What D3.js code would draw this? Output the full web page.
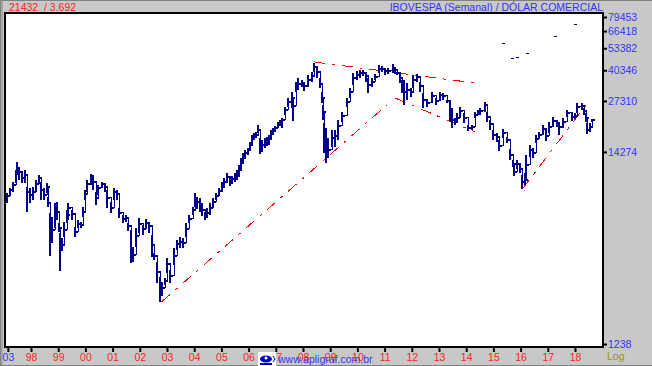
<!DOCTYPE html>
<html>
<head>
<meta charset="utf-8">
<script src="https://cdn.jsdelivr.net/npm/d3@7"></script>
<style>
    html, body { margin: 0; padding: 0; background: #c8c8c8; }
    svg { display: block; }
    text { font-family: "Liberation Sans", Arial, sans-serif; font-size: 10.5px; }
</style>
</head>
<body>
<div id="chart"></div>
<script>
// weekly bars (thinned out, one bar every few pixels)
const barDates = [
    1997.12, 1997.23, 1997.34, 1997.45, 1997.49, 1997.56, 1997.67, 1997.78, 1997.85, 1997.96,
    1998.07, 1998.18, 1998.29, 1998.37, 1998.48, 1998.59, 1998.62, 1998.70, 1998.77, 1998.88, 1998.96,
    1999.03, 1999.07, 1999.14, 1999.21, 1999.32, 1999.36, 1999.51, 1999.62, 1999.73, 1999.84, 1999.91, 1999.99,
    2000.06, 2000.21, 2000.28, 2000.39, 2000.46, 2000.61, 2000.72, 2000.79, 2000.94,
    2001.05, 2001.16, 2001.24, 2001.38, 2001.49, 2001.57, 2001.68, 2001.75, 2001.86, 2001.97,
    2002.12, 2002.23, 2002.34, 2002.45, 2002.52, 2002.63, 2002.74, 2002.82, 2002.93,
    2003.00, 2003.11, 2003.26, 2003.37, 2003.48, 2003.59, 2003.70, 2003.81, 2003.96,
    2004.03, 2004.10, 2004.21, 2004.29, 2004.40, 2004.47, 2004.58, 2004.69, 2004.80, 2004.91,
    2005.02, 2005.09, 2005.21, 2005.32, 2005.39, 2005.50, 2005.57, 2005.65, 2005.72, 2005.79, 2005.87, 2005.98,
    2006.05, 2006.12, 2006.20, 2006.27, 2006.34, 2006.42, 2006.49, 2006.60, 2006.68, 2006.75, 2006.82, 2006.90, 2006.97,
    2007.08, 2007.15, 2007.23, 2007.34, 2007.45, 2007.59, 2007.63, 2007.74, 2007.81, 2007.96,
    2008.04, 2008.18, 2008.33, 2008.40, 2008.51, 2008.62, 2008.70, 2008.73, 2008.77, 2008.84, 2008.92,
    2009.07, 2009.18, 2009.29, 2009.43, 2009.62, 2009.73, 2009.84, 2009.98,
    2010.09, 2010.20, 2010.32, 2010.39, 2010.54, 2010.65, 2010.79, 2010.90,
    2011.01, 2011.12, 2011.31, 2011.38, 2011.45, 2011.56, 2011.64, 2011.71, 2011.82, 2011.97,
    2012.04, 2012.19, 2012.30, 2012.41, 2012.56, 2012.74, 2012.89,
    2013.04, 2013.15, 2013.29, 2013.40, 2013.48, 2013.59, 2013.66, 2013.77, 2013.92,
    2014.06, 2014.21, 2014.32, 2014.43, 2014.51, 2014.69, 2014.76, 2014.87, 2014.98,
    2015.13, 2015.20, 2015.35, 2015.50, 2015.61, 2015.72, 2015.76, 2015.87, 2015.98,
    2016.05, 2016.16, 2016.20, 2016.34, 2016.45, 2016.56, 2016.67, 2016.82, 2016.93,
    2017.04, 2017.19, 2017.34, 2017.41, 2017.56, 2017.70, 2017.89,
    2018.00, 2018.07, 2018.25, 2018.33, 2018.40, 2018.44, 2018.55, 2018.62
];
const barHighs = [
    8473, 9030, 9745, 11360, 12570, 11800, 10930, 11360, 9145, 9030,
    9145, 10000, 10660, 9745, 9030, 9622, 8053, 6570, 6245, 7460, 7556,
    5785, 5093, 4780, 5858, 6825, 7460, 6825, 5498, 6010, 5858, 7091, 8800,
    10000, 10790, 10660, 8581, 9380, 9745, 9622, 8800, 7556,
    9030, 8800, 7000, 6405, 6405, 5785, 5292, 4263, 5428, 6165,
    5640, 6087, 5858, 4966, 3950, 3522, 2912, 2731, 2875,
    3708, 3180, 4210, 4660, 4841, 4780, 5785, 6405, 7091,
    8473, 8053, 7950, 7273, 6653, 7000, 7460, 7950, 8473, 9030,
    9745, 10260, 10930, 10260, 10520, 10930, 11360, 12100, 13230, 14090, 14650, 15020,
    16210, 17720, 18180, 18410, 20130, 17060, 16630, 17060, 17280, 17720, 18890, 19380, 19880,
    20910, 21450, 22000, 25310, 28380, 30630, 27670, 34790, 36600, 35680,
    34790, 38030, 39510, 44300, 42100, 36600, 30630, 25960, 20650, 19380, 17060,
    18890, 18890, 21450, 23750, 28380, 32230, 39010, 40010,
    40520, 40520, 39510, 36600, 36600, 38510, 43190, 42640,
    41570, 41570, 43740, 42100, 39510, 39010, 35680, 35680, 34350, 32230,
    38030, 38510, 34790, 30240, 27670, 30630, 28380,
    30630, 30240, 27670, 26970, 24990, 22000, 23450, 25310, 23450,
    20130, 20130, 23750, 24360, 24990, 26970, 23750, 21450, 18890,
    18180, 16630, 19130, 17280, 14830, 12890, 11800, 12890, 12100,
    10660, 10930, 13740, 15610, 15020, 17720, 18410, 20130, 18890,
    20910, 22290, 21450, 20910, 22000, 24360, 23450,
    23450, 26630, 26630, 24990, 23450, 20650, 20650, 21730
];
const barLows = [
    7460, 8260, 8581, 9622, 10660, 10000, 9622, 9622, 6653, 7460,
    7751, 8581, 9622, 7751, 7751, 8473, 7091, 3803, 4486, 5428, 6010,
    5158, 3140, 4104, 4841, 5785, 6010, 6010, 4841, 5428, 5428, 6245, 7751,
    8581, 9380, 8800, 7273, 8260, 9030, 8581, 7000, 6570,
    7751, 7751, 6165, 5785, 5858, 5225, 3478, 3522, 4263, 5093,
    4966, 5428, 5093, 3755, 3615, 2697, 2117, 2270, 2629,
    3060, 2697, 3390, 4104, 4210, 4210, 4841, 5785, 6405,
    7091, 6910, 6653, 6325, 6010, 6165, 6405, 7000, 7751, 8156,
    8581, 9030, 9622, 9262, 9500, 9745, 10000, 10390, 11360, 12410, 13230, 13740,
    14650, 15610, 16630, 17060, 18180, 13920, 14270, 15020, 15410, 15610, 16630, 17720, 18410,
    19380, 19880, 19380, 22860, 25310, 24990, 21180, 30630, 31420, 32640,
    31020, 32640, 34790, 39510, 36600, 32230, 26630, 21450, 14090, 12410, 13230,
    15220, 15220, 16630, 20910, 25310, 28380, 33480, 35680,
    36600, 37550, 34790, 30240, 32640, 35680, 39010, 39510,
    38030, 38510, 39010, 38510, 38030, 34350, 30240, 25960, 27670, 28740,
    32230, 34790, 30630, 24990, 25310, 26970, 25960,
    27670, 27670, 26630, 20910, 19380, 20130, 20650, 22000, 20650,
    18650, 18890, 22000, 22860, 22860, 23750, 20910, 18890, 16630,
    16210, 14460, 17060, 16010, 12890, 11800, 10520, 11500, 10930,
    8915, 9380, 10000, 13400, 13230, 16010, 16850, 17720, 16420,
    18180, 19630, 19630, 17720, 19380, 22290, 21180,
    21730, 23450, 24360, 22860, 20910, 17950, 18410, 20910
];
const barCloses = [
    8156, 8800, 9380, 10790, 11650, 11070, 10260, 10660, 8581, 8260,
    8581, 9500, 10260, 8800, 8260, 9145, 7460, 5428, 5292, 6653, 6653,
    5428, 4104, 4374, 5292, 6405, 7000, 6487, 5158, 5713, 5640, 6653, 8365,
    9500, 10260, 9745, 7950, 9030, 9500, 9145, 7950, 7000,
    8581, 8365, 6570, 6087, 6165, 5570, 4104, 3851, 4903, 5713,
    5360, 5785, 5570, 4374, 3803, 3101, 2466, 2530, 2767,
    3434, 2947, 3803, 4430, 4542, 4486, 5360, 6087, 6825,
    7950, 7556, 7366, 6825, 6325, 6570, 7000, 7556, 8156, 8690,
    9262, 9745, 10390, 9745, 10130, 10390, 10790, 11360, 12410, 13230, 14090, 14650,
    15610, 16850, 17500, 17720, 18890, 15410, 15610, 16210, 16630, 17060, 17950, 18650, 19380,
    20390, 20910, 21450, 24360, 26970, 28380, 25630, 32640, 33910, 34350,
    33060, 35680, 37550, 42100, 39510, 33910, 28380, 23750, 16630, 14650, 14650,
    17060, 17500, 19880, 22570, 26970, 30630, 36600, 38030,
    39010, 39010, 37550, 33480, 34790, 37070, 41040, 41040,
    40010, 40010, 41570, 40520, 39010, 36600, 33060, 30630, 31420, 30630,
    35680, 37070, 33060, 27670, 26630, 29110, 27320,
    29480, 29110, 27320, 24360, 21450, 21180, 22000, 24050, 22000,
    19380, 19630, 22860, 23750, 24050, 25960, 22290, 20390, 17720,
    17280, 15410, 18180, 16630, 13740, 12260, 11070, 12260, 11500,
    9745, 10000, 12100, 14650, 14090, 16850, 17720, 19130, 17500,
    19630, 21180, 20650, 19630, 20910, 23450, 22290,
    22570, 25310, 25630, 24050, 22000, 18890, 19630, 21432
];

// stray short marks above the price
const dashDates = [2015.30, 2015.66, 2015.84, 2016.21, 2017.24, 2017.97];
const dashValues = [57100, 47200, 47800, 50300, 62460, 72800];

// trend lines: [date, value, date, value]
const trendStarts = [[2002.80, 2117], [2008.40, 44870], [2011.38, 28380], [2016.07, 8915]];
const trendEnds = [[2011.09, 25960], [2014.28, 34350], [2014.32, 18400], [2018.41, 25970]];

const priceTicks = [79453, 66418, 53382, 40346, 27310, 14274, 1238];
const yearTicks = [1997.15, 1998, 1999, 2000, 2001, 2002, 2003, 2004, 2005, 2006, 2007, 2008, 2009, 2010, 2011, 2012, 2013, 2014, 2015, 2016, 2017, 2018];
const yearLabels = ["03", "98", "99", "00", "01", "02", "03", "04", "05", "06", "07", "08", "09", "10", "11", "12", "13", "14", "15", "16", "17", "18"];

const width = 652,
    height = 366,
    plot = { left: 6, right: 602, top: 14, bottom: 346 };

const svg = d3.select("#chart").append("svg")
    .attr("width", width)
    .attr("height", height);

const x = d3.scaleLinear().domain([1998, 2018]).range([31, 575]);
const y = d3.scaleLog().domain([1238, 79453]).range([344, 17]);

// window frame
svg.append("rect").attr("width", width).attr("height", height).attr("fill", "#c8c8c8");
svg.append("path")
    .attr("d", `M0.5,${height}V0.5H${width}M0,${height - 0.5}H${width}`)
    .attr("fill", "none")
    .attr("stroke", "#808080")
    .attr("stroke-width", 1);
svg.append("rect").attr("x", 1).attr("y", 1).attr("width", 2).attr("height", height - 2).attr("fill", "#a8a8a8");

// plot area
svg.append("rect")
    .attr("x", plot.left - 1)
    .attr("y", plot.top - 1)
    .attr("width", plot.right - plot.left + 2)
    .attr("height", plot.bottom - plot.top + 2)
    .attr("fill", "#fff")
    .attr("stroke", "#000")
    .attr("stroke-width", 2);

// trend lines
svg.append("g")
    .attr("class", "trends")
    .selectAll("line")
    .data(trendStarts)
    .enter()
    .append("line")
    .attr("x1", d => x(d[0]))
    .attr("y1", d => y(d[1]))
    .attr("x2", (d, i) => x(trendEnds[i][0]))
    .attr("y2", (d, i) => y(trendEnds[i][1]))
    .attr("stroke", "#ff0000")
    .attr("stroke-width", 1)
    .attr("stroke-dasharray", "11 7 3 7")
    .attr("shape-rendering", "crispEdges");

// bars: high-low stem with the close to the right
const bars = svg.append("g")
    .attr("class", "bars")
    .attr("stroke", "#00008b")
    .attr("shape-rendering", "crispEdges");

// the real chart has a bar per week, this thin step through the closes fills the space between ours
const closeLine = d3.line()
    .x(d => Math.round(x(d[0])))
    .y(d => y(d[1]))
    .curve(d3.curveStepAfter);

bars.append("path")
    .attr("fill", "none")
    .attr("stroke-width", 1)
    .attr("d", closeLine(barDates.map((d, i) => [d, barCloses[i]])));

bars.selectAll("path.bar")
    .data(barDates)
    .enter()
    .append("path")
    .attr("class", "bar")
    .attr("fill", "none")
    .attr("stroke-width", 2)
    .attr("d", (d, i) => {
        const px = Math.round(x(d));
        return `M${px},${y(barHighs[i])}V${y(barLows[i])}M${px},${y(barCloses[i])}H${px + 3}`;
    });

svg.append("g")
    .attr("class", "dashes")
    .selectAll("line")
    .data(dashDates)
    .enter()
    .append("line")
    .attr("x1", d => x(d))
    .attr("x2", d => x(d) + 3)
    .attr("y1", (d, i) => Math.round(y(dashValues[i])) + 0.5)
    .attr("y2", (d, i) => Math.round(y(dashValues[i])) + 0.5)
    .attr("stroke", "#00008b")
    .attr("shape-rendering", "crispEdges");

// right axis
const yAxis = d3.axisRight(y)
    .tickValues(priceTicks)
    .tickFormat(d3.format("d"))
    .tickSize(3)
    .tickPadding(1);

const yAxisG = svg.append("g")
    .attr("transform", `translate(${plot.right + 2},0)`)
    .call(yAxis);
yAxisG.select(".domain").remove();
yAxisG.selectAll("line").attr("stroke", "#000").attr("stroke-width", 2);
yAxisG.selectAll("text").attr("fill", "#3333ff").attr("font-size", null).attr("font-family", null).style("font-size", "10.5px");

// bottom axis
const xAxis = d3.axisBottom(x)
    .tickValues(yearTicks)
    .tickFormat((d, i) => yearLabels[i])
    .tickSize(4)
    .tickPadding(2);

const xAxisG = svg.append("g")
    .attr("transform", `translate(0,${plot.bottom + 2})`)
    .call(xAxis);
xAxisG.select(".domain").remove();
xAxisG.selectAll("line").attr("stroke", "#000").attr("stroke-width", 2);
xAxisG.selectAll("text")
    .attr("fill", (d, i) => i === 0 ? "#3333ff" : "#ff2222")
    .attr("font-family", null)
    .style("font-size", "10.5px");

// header
svg.append("text").attr("x", 9).attr("y", 11).attr("fill", "#ff2222").style("white-space", "pre").text("21432  / 3.692");
svg.append("text").attr("x", 603).attr("y", 11).attr("text-anchor", "end").attr("fill", "#3333ff").text("IBOVESPA (Semanal) / DÓLAR COMERCIAL");

svg.append("text").attr("x", 607).attr("y", 360).attr("fill", "#999900").text("Log");

// logo and site address
const logo = svg.append("g").attr("class", "logo");
logo.append("rect").attr("x", 258).attr("y", 352).attr("width", 18).attr("height", 14).attr("fill", "#fff");
logo.append("ellipse").attr("cx", 266).attr("cy", 359).attr("rx", 6).attr("ry", 3.5).attr("fill", "#0000cc");
logo.append("circle").attr("cx", 266).attr("cy", 358).attr("r", 1.5).attr("fill", "#fff");
logo.append("path").attr("d", "M260,364H272").attr("stroke", "#0000cc").attr("stroke-width", 2);
logo.append("path").attr("d", "M273,356L275,359L273,362").attr("stroke", "#0000cc").attr("fill", "none");
svg.append("text").attr("x", 278).attr("y", 363).attr("fill", "#3333ff").text("www.apligraf.com.br");
</script>
</body>
</html>
